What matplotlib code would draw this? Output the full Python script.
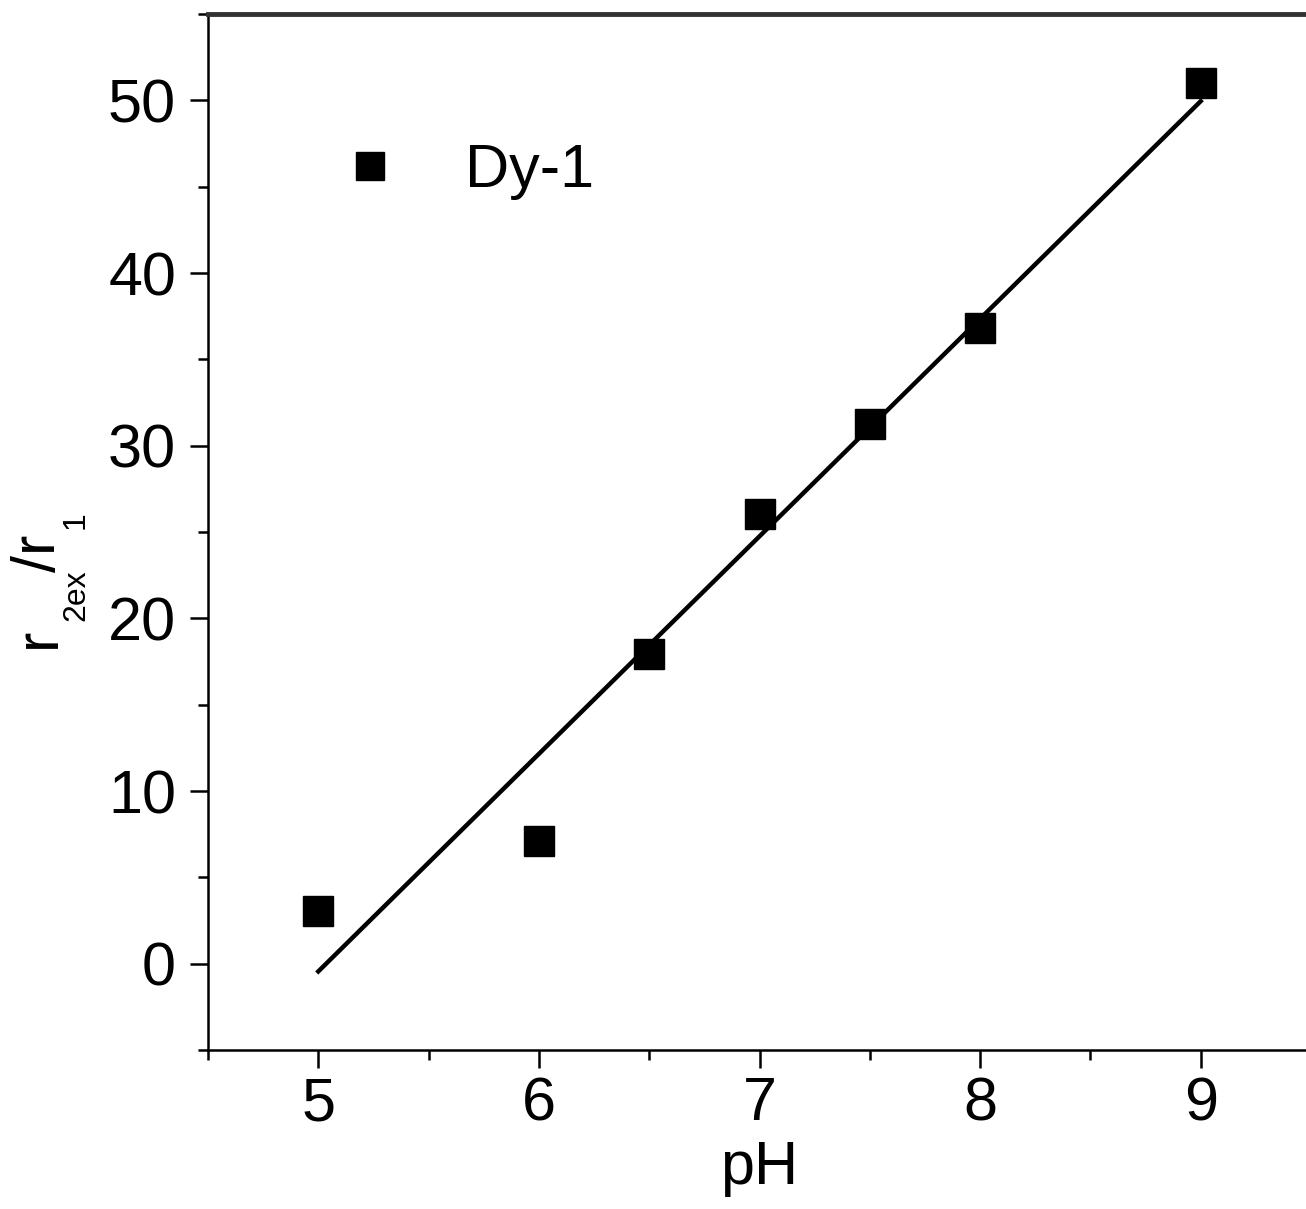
import matplotlib.pyplot as plt
from matplotlib.ticker import MultipleLocator

# data
ph = [5, 6, 6.5, 7, 7.5, 8, 9]
ratio = [3.05, 7.1, 17.95, 26.05, 31.25, 36.8, 51.0]
# linear fit line endpoints
fit_ph = [5, 9]
fit_ratio = [-0.45, 49.95]

plt.rcParams['font.family'] = ['Liberation Sans', 'DejaVu Sans']

W, H = 1306, 1209
FS = 44
fig = plt.figure(figsize=(W / 100, H / 100), dpi=100)
ax = fig.add_axes([208 / W, (H - 1050) / H, (1311 - 208) / W, (1050 - 14) / H])

ax.plot(fit_ph, fit_ratio, color='black', lw=3.2, zorder=2)
ax.plot(ph, ratio, 's', color='black', ms=22, label='Dy-1', zorder=3)

ax.set_xlim(4.5, 9.5)
ax.set_ylim(-5, 55)
ax.xaxis.set_major_locator(MultipleLocator(1))
ax.xaxis.set_minor_locator(MultipleLocator(0.5))
ax.yaxis.set_major_locator(MultipleLocator(10))
ax.yaxis.set_minor_locator(MultipleLocator(5))

ax.tick_params(which='both', direction='out', width=1.8, labelsize=FS)
ax.tick_params(which='major', length=13)
ax.tick_params(which='minor', length=7)
ax.tick_params(axis='y', pad=10)
ax.tick_params(axis='x', pad=6)

for side in ['left', 'bottom']:
    ax.spines[side].set_linewidth(1.8)
ax.spines['top'].set_linewidth(3.5)
ax.spines['top'].set_color('#333333')
ax.spines['right'].set_visible(False)

ax.set_xlabel('pH', fontsize=FS, labelpad=5)

# y label r_2ex / r_1 built from pieces (small, low subscripts)
def ptext(x, y, s, size):
    fig.text(x / W, 1 - y / H, s, fontsize=size, rotation=90,
             rotation_mode='anchor', ha='left', va='baseline')

ptext(55, 648, 'r', FS)
ptext(84, 621, '2ex', 23)
ptext(55, 572, '/r', FS)
ptext(84, 529, '1', 23)

ax.legend(loc='center left', bbox_to_anchor=(0.119, 0.848), frameon=False,
          fontsize=FS, markerscale=0.9, handlelength=1.0,
          handletextpad=1.05, borderpad=0, borderaxespad=0)

fig.savefig('out.png', dpi=100)
